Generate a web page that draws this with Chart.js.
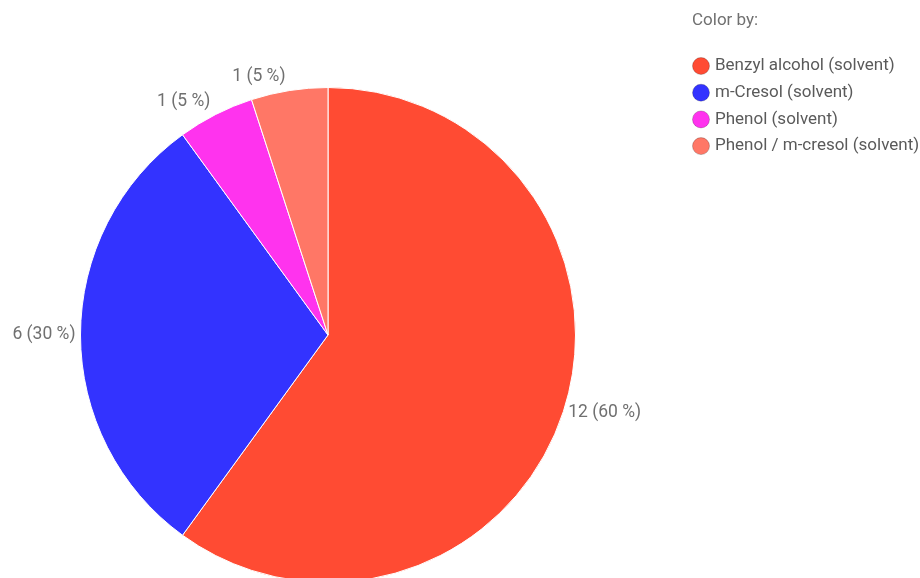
<!DOCTYPE html>
<html>
<head>
<meta charset="utf-8">
<script src="https://cdn.jsdelivr.net/npm/chart.js@4.4.1/dist/chart.umd.min.js"></script>
<style>
  html, body { margin: 0; padding: 0; background: #fff; overflow: hidden; }
  #wrap { width: 920px; height: 578px; overflow: hidden; }
</style>
</head>
<body>
<div id="wrap"><canvas id="pie" width="920" height="600"></canvas></div>
<script>
const categories = ["Benzyl alcohol (solvent)", "m-Cresol (solvent)", "Phenol (solvent)", "Phenol / m-cresol (solvent)"];
const counts = [12, 6, 1, 1];
const colors = ["#ff4b33", "#3333ff", "#ff33ee", "#ff7766"];
const legendTitle = "Color by:";

const FONT = "Roboto, 'Noto Sans', sans-serif";
const TEXT = "#707070";

// slice labels like "12 (60 %)", placed just outside the rim
const sliceLabels = {
  id: "sliceLabels",
  afterDatasetsDraw(chart) {
    const ctx = chart.ctx;
    const total = counts.reduce((a, b) => a + b, 0);
    ctx.save();
    ctx.font = "17.5px " + FONT;
    ctx.fillStyle = TEXT;
    chart.getDatasetMeta(0).data.forEach((arc, i) => {
      const p = arc.getProps(["x", "y", "startAngle", "endAngle", "outerRadius"], true);
      const mid = (p.startAngle + p.endAngle) / 2;
      const r = p.outerRadius + 5;
      const c = Math.cos(mid), s = Math.sin(mid);
      let x = p.x + r * c, y = p.y + r * s;
      if (s < -0.5) x -= 3;
      ctx.textAlign = c > 0.15 ? "left" : c < -0.15 ? "right" : "center";
      ctx.textBaseline = s < -0.5 ? "bottom" : s > 0.5 ? "top" : "middle";
      const pct = Math.round(counts[i] / total * 100);
      ctx.fillText(`${counts[i]} (${pct} %)`, x, y);
    });
    ctx.restore();
  }
};

// legend on the right, drawn by hand
const sideLegend = {
  id: "sideLegend",
  afterDraw(chart) {
    const ctx = chart.ctx;
    ctx.save();
    ctx.font = "17px " + FONT;
    ctx.fillStyle = TEXT;
    ctx.textBaseline = "middle";
    ctx.textAlign = "left";
    ctx.fillText(legendTitle, 692, 21);
    categories.forEach((name, i) => {
      const y = 66 + i * 26.7;
      ctx.beginPath();
      ctx.arc(701, y, 8.5, 0, Math.PI * 2);
      ctx.fillStyle = colors[i];
      ctx.fill();
      ctx.strokeStyle = "rgba(0,0,0,0.2)";
      ctx.lineWidth = 1;
      ctx.stroke();
      ctx.fillStyle = "#5a5a5a";
      ctx.fillText(name, 715, y);
    });
    ctx.restore();
  }
};

new Chart(document.getElementById("pie"), {
  type: "pie",
  data: {
    labels: categories,
    datasets: [{
      data: counts,
      backgroundColor: colors,
      borderColor: "#ffffff",
      borderWidth: 1,
    }]
  },
  options: {
    responsive: false,
    animation: false,
    layout: { padding: { left: 80, right: 344, top: 87, bottom: 17 } },
    plugins: {
      legend: { display: false },
      tooltip: { enabled: false },
    }
  },
  plugins: [sliceLabels, sideLegend]
});
</script>
</body>
</html>
